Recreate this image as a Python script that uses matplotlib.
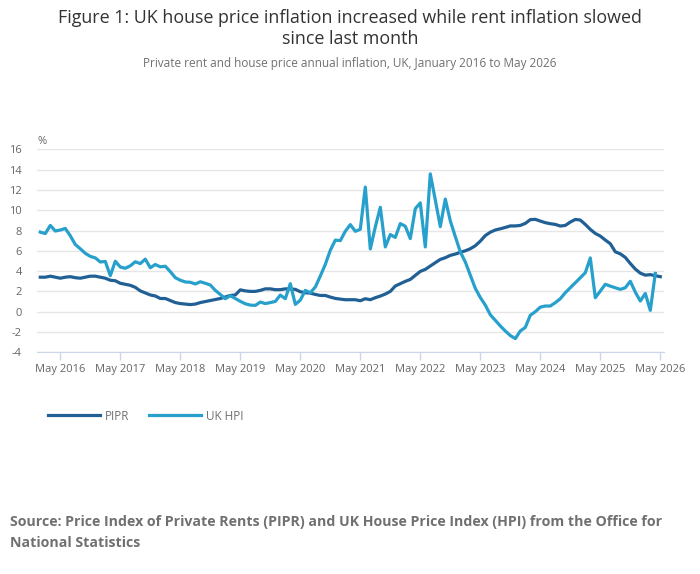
import matplotlib
matplotlib.use('Agg')
import matplotlib.pyplot as plt
import numpy as np

plt.rcParams['font.family'] = ['Open Sans', 'DejaVu Sans']

# monthly values, Jan 2016 onwards (PIPR to May 2026, HPI to Apr 2026)
pipr = [3.4, 3.4, 3.5, 3.4, 3.3, 3.4, 3.45, 3.35, 3.3, 3.4, 3.5, 3.5,
        3.4, 3.3, 3.1, 3.05, 2.8, 2.7, 2.6, 2.4, 2.05, 1.85, 1.65, 1.55,
        1.3, 1.3, 1.1, 0.9, 0.8, 0.75, 0.7, 0.75, 0.9, 1.0, 1.1, 1.2,
        1.3, 1.45, 1.6, 1.65, 2.15, 2.05, 2.0, 2.0, 2.1, 2.25, 2.25, 2.17,
        2.17, 2.25, 2.25, 2.2, 1.97, 1.87, 1.83, 1.7, 1.6, 1.6, 1.44, 1.31,
        1.24, 1.18, 1.18, 1.18, 1.08, 1.28, 1.18, 1.38, 1.54, 1.74, 2.0, 2.53,
        2.76, 2.99, 3.18, 3.58, 3.97, 4.17, 4.5, 4.83, 5.15, 5.32, 5.55, 5.68,
        5.85, 6.0, 6.2, 6.5, 6.95, 7.5, 7.83, 8.05, 8.17, 8.3, 8.45, 8.45,
        8.5, 8.7, 9.07, 9.1, 8.93, 8.77, 8.67, 8.6, 8.44, 8.5, 8.83, 9.09,
        9.03, 8.6, 8.11, 7.71, 7.45, 7.06, 6.7, 5.9, 5.7, 5.35, 4.75, 4.2,
        3.8, 3.6, 3.65, 3.55, 3.45]

hpi = [7.84, 7.7, 8.5, 7.95, 8.05, 8.2, 7.48, 6.62, 6.2, 5.75, 5.45, 5.3,
       4.9, 4.95, 3.55, 4.97, 4.4, 4.28, 4.52, 4.92, 4.74, 5.18, 4.33, 4.65,
       4.42, 4.48, 3.95, 3.35, 3.1, 2.93, 2.9, 2.73, 2.95, 2.8, 2.63, 2.1,
       1.7, 1.28, 1.57, 1.3, 1.02, 0.78, 0.65, 0.62, 0.95, 0.8, 0.9, 1.01,
       1.64, 1.28, 2.76, 0.72, 1.14, 2.1, 1.87, 2.43, 3.51, 4.66, 6.05, 7.05,
       7.0, 7.92, 8.58, 7.92, 8.12, 12.28, 6.18, 8.35, 10.29, 6.38, 7.6, 7.32,
       8.68, 8.42, 7.2, 10.15, 10.72, 6.38, 13.58, 11.0, 8.38, 11.1, 8.95, 7.4,
       5.9, 4.9, 3.6, 2.3, 1.4, 0.65, -0.3, -0.85, -1.4, -1.9, -2.35, -2.65,
       -1.9, -1.55, -0.35, 0.0, 0.45, 0.56, 0.56, 0.89, 1.28, 1.87, 2.36, 2.85,
       3.34, 3.84, 5.3, 1.38, 2.03, 2.7, 2.52, 2.36, 2.2, 2.36, 3.0, 1.93,
       1.05, 1.8, 0.13, 3.77]

years = list(range(2016, 2027))
tick_labels = ['May %d' % y for y in years]
y_ticks = list(range(-4, 18, 2))

c_pipr = '#206095'
c_hpi = '#27a0cc'
grey = '#707071'

fig = plt.figure(figsize=(7, 5.74), dpi=100)
W, H = 700, 574
ax = fig.add_axes([37 / W, 1 - 352.3 / H, 627 / W, 203 / H])

ax.plot(np.arange(len(pipr)), pipr, color=c_pipr, lw=2.3, label='PIPR',
        solid_joinstyle='round')
ax.plot(np.arange(len(hpi)), hpi, color=c_hpi, lw=2.3, label='UK HPI',
        solid_joinstyle='round')

ax.set_xlim(-0.66, 124.74)
ax.set_ylim(-4, 16)
ax.set_yticks(y_ticks)
ax.set_yticklabels([str(v) for v in y_ticks])
ax.set_xticks([4 + 12 * i for i in range(len(years))])
ax.set_xticklabels(tick_labels)

ax.grid(axis='y', color='#e6e6e6', lw=1)
ax.set_axisbelow(True)
for s in ['left', 'right', 'top']:
    ax.spines[s].set_visible(False)
ax.spines['bottom'].set_color('#ccd6eb')
ax.spines['bottom'].set_zorder(0.5)
ax.tick_params(axis='y', length=0, pad=11, labelsize=8, labelcolor='#666666')
ax.tick_params(axis='x', length=6, width=1, color='#ccd6eb', pad=2.5,
               labelsize=8, labelcolor='#666666')

fig.text(38 / W, 1 - 142 / H, '%', ha='left', va='center', fontsize=8, color='#666666')

# titles
fig.text(0.5, 1 - 18 / H, 'Figure 1: UK house price inflation increased while rent inflation slowed',
         ha='center', va='center', fontsize=12.9, color='#333333')
fig.text(0.5, 1 - 39 / H, 'since last month',
         ha='center', va='center', fontsize=12.9, color='#333333')
fig.text(0.5, 1 - 64 / H, 'Private rent and house price annual inflation, UK, January 2016 to May 2026',
         ha='center', va='center', fontsize=8.5, color=grey)

leg = fig.legend(loc='center left', bbox_to_anchor=(48 / W, 1 - 416 / H), ncol=2,
                 frameon=False, fontsize=8.5, handlelength=4.4, handletextpad=0.4,
                 columnspacing=1.7, borderpad=0, borderaxespad=0)
for t in leg.get_texts():
    t.set_color(grey)

fig.text(10 / W, 1 - 522 / H,
         'Source: Price Index of Private Rents (PIPR) and UK House Price Index (HPI) from the Office for',
         ha='left', va='center', fontsize=10.15, fontweight='bold', color=grey)
fig.text(10 / W, 1 - 543 / H, 'National Statistics',
         ha='left', va='center', fontsize=10.15, fontweight='bold', color=grey)

fig.savefig('out.png', dpi=100)
